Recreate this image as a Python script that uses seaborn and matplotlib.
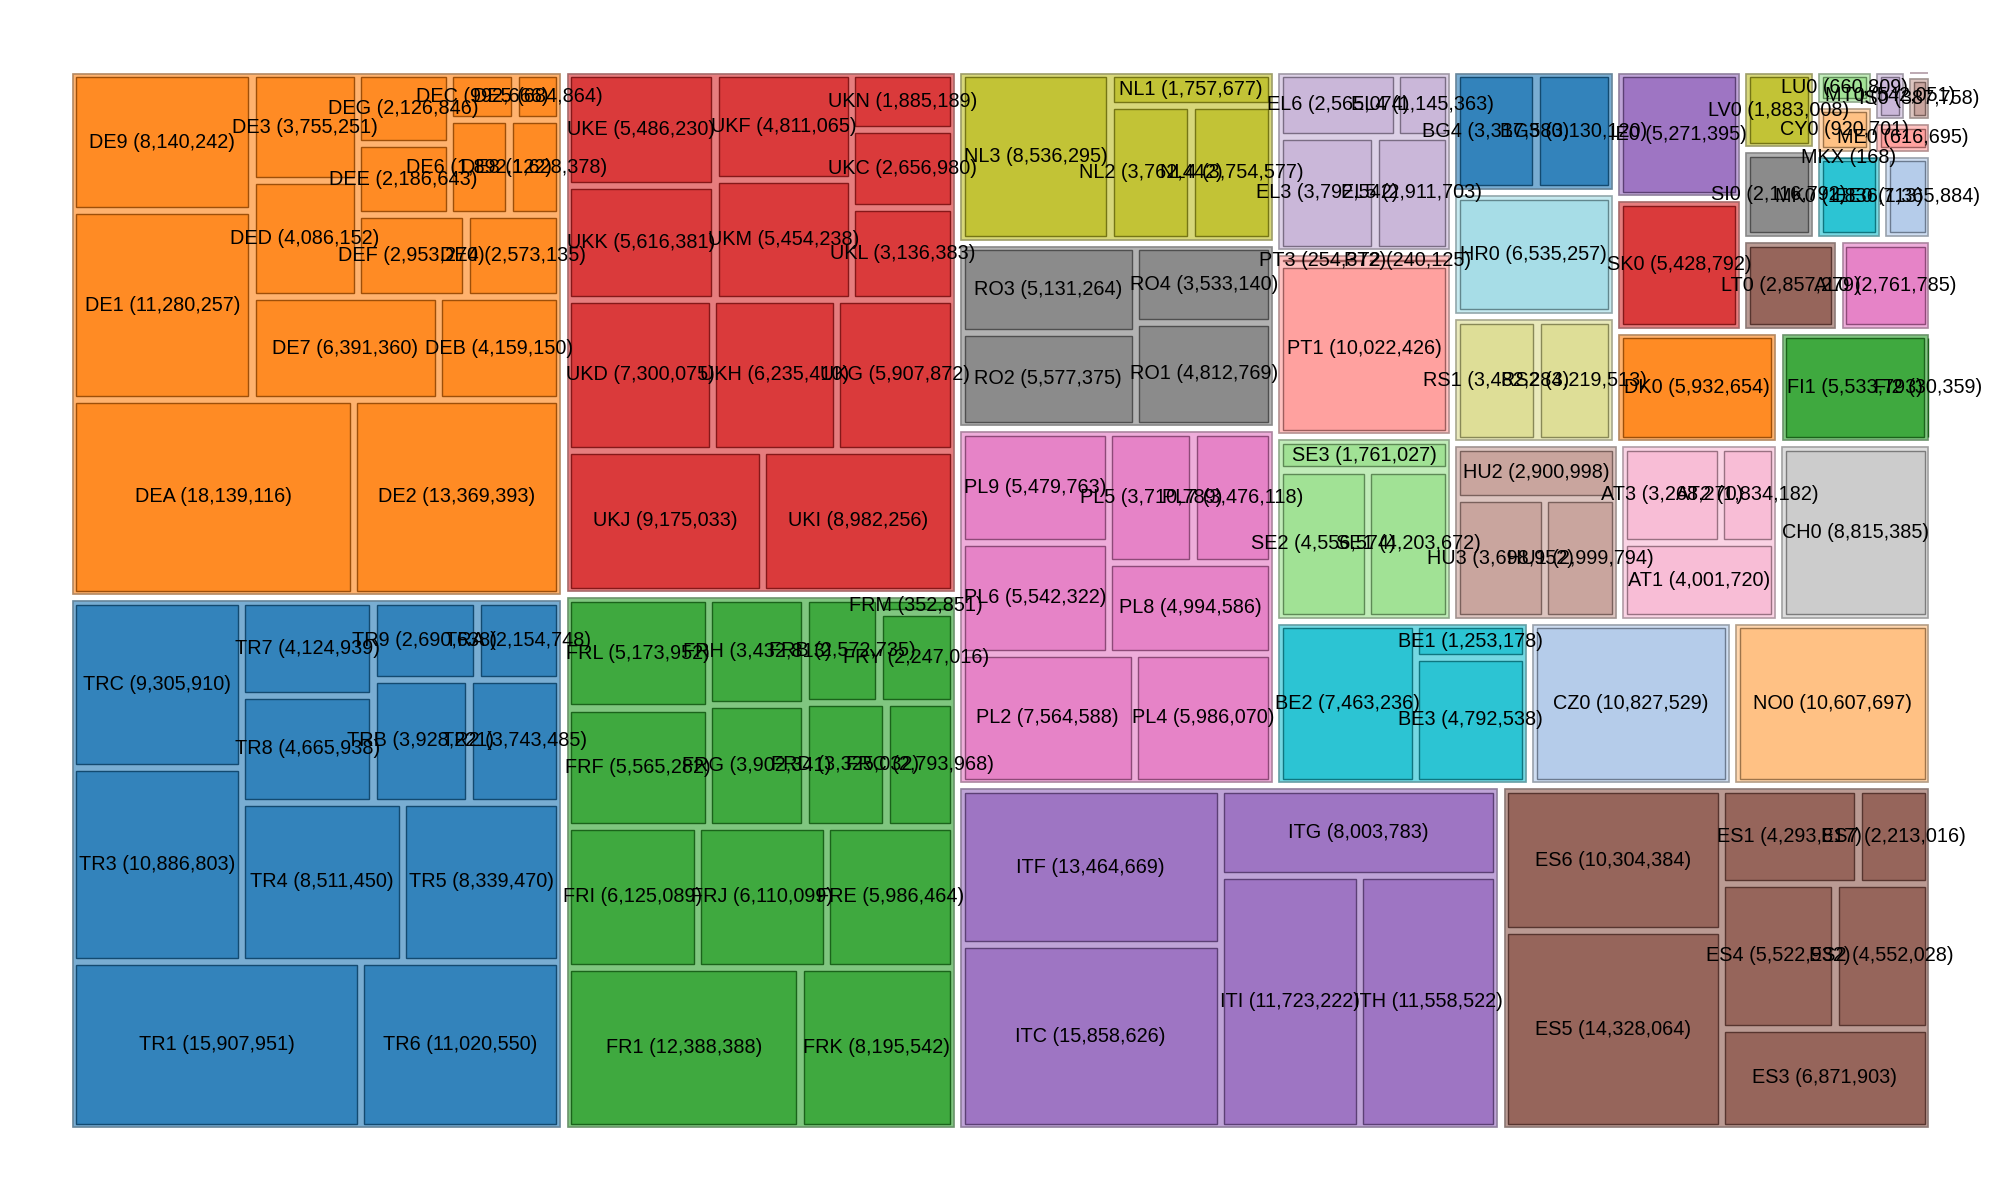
import matplotlib
matplotlib.use("Agg")
import numpy as np
import pandas as pd
import seaborn as sns
import matplotlib.pyplot as plt
from matplotlib.patches import Rectangle

sns.set_theme(style="white")
plt.rcParams['font.family'] = ['Liberation Sans', 'DejaVu Sans']

# ---------------- data ----------------
region_codes = [
    "DEA", "DE2", "DE1", "DE9", "DE7", "DEB", "DED", "DE3", "DEF", "DE4", "DEE", "DEG", "DE6", "DE8", "DEC", "DE5",
    "TR1", "TR6", "TR3", "TRC", "TR4", "TR5", "TR8", "TR7", "TRB", "TR2", "TR9", "TRA",
    "FR1", "FRK", "FRI", "FRJ", "FRE", "FRF", "FRL", "FRG", "FRH", "FRD", "FRC", "FRB", "FRY", "FRM",
    "UKJ", "UKI", "UKD", "UKH", "UKG", "UKK", "UKE", "UKM", "UKF", "UKL", "UKC", "UKN",
    "ITC", "ITF", "ITI", "ITH", "ITG",
    "ES5", "ES6", "ES3", "ES4", "ES2", "ES1", "ES7",
    "PL2", "PL4", "PL6", "PL9", "PL8", "PL5", "PL7",
    "RO2", "RO3", "RO1", "RO4",
    "NL3", "NL2", "NL4", "NL1",
    "BE2", "BE3", "BE1",
    "CZ0", "NO0",
    "SE2", "SE1", "SE3",
    "PT1", "PT3", "PT2",
    "EL3", "EL5", "EL6", "EL4",
    "HU3", "HU1", "HU2",
    "AT1", "AT3", "AT2",
    "CH0",
    "RS1", "RS2", "HR0", "BG4", "BG3", "DK0", "FI1", "FI2", "SK0", "IE0",
    "LT0", "AL0", "SI0", "LV0", "MK0", "MKX", "EE0", "CY0", "LU0", "ME0", "MT0", "IS0", "LI0",
]
region_population = [
    18139116, 13369393, 11280257, 8140242, 6391360, 4159150, 4086152, 3755251, 2953270, 2573135, 2186643, 2126846, 1892122, 1628378, 992666, 684864,
    15907951, 11020550, 10886803, 9305910, 8511450, 8339470, 4665938, 4124939, 3928221, 3743485, 2690638, 2154748,
    12388388, 8195542, 6125089, 6110099, 5986464, 5565282, 5173952, 3902341, 3432813, 3325032, 2793968, 2572735, 2247016, 352851,
    9175033, 8982256, 7300075, 6235410, 5907872, 5616381, 5486230, 5454238, 4811065, 3136383, 2656980, 1885189,
    15858626, 13464669, 11723222, 11558522, 8003783,
    14328064, 10304384, 6871903, 5522932, 4552028, 4293817, 2213016,
    7564588, 5986070, 5542322, 5479763, 4994586, 3710789, 3476118,
    5577375, 5131264, 4812769, 3533140,
    8536295, 3762442, 3754577, 1757677,
    7463236, 4792538, 1253178,
    10827529, 10607697,
    4556574, 4203672, 1761027,
    10022426, 254372, 240125,
    3792542, 2911703, 2565074, 1145363,
    3698952, 2999794, 2900998,
    4001720, 3268270, 1834182,
    8815385,
    3482284, 3219513, 6535257, 3317580, 3130120, 5932654, 5533793, 30359, 5428792, 5271395,
    2857279, 2761785, 2116792, 1883008, 1836713, 168, 1365884, 920701, 660809, 616695, 542051, 387758, 39677,
]

# ---------------- squarify (y axis pointing up) ----------------
def normalize(sizes, dx, dy):
    total = float(sum(sizes))
    return [s * dx * dy / total for s in sizes]

def layoutrow(sizes, x, y, dx, dy):
    width = sum(sizes) / dy
    out = []
    for s in sizes:
        out.append((x, y, width, s / width))
        y += s / width
    return out

def layoutcol(sizes, x, y, dx, dy):
    height = sum(sizes) / dx
    out = []
    for s in sizes:
        out.append((x, y, s / height, height))
        x += s / height
    return out

def layout(sizes, x, y, dx, dy):
    return layoutrow(sizes, x, y, dx, dy) if dx >= dy else layoutcol(sizes, x, y, dx, dy)

def leftover(sizes, x, y, dx, dy):
    covered = sum(sizes)
    if dx >= dy:
        w = covered / dy
        return x + w, y, dx - w, dy
    h = covered / dx
    return x, y + h, dx, dy - h

def worst_ratio(sizes, x, y, dx, dy):
    return max(max(r[2] / r[3], r[3] / r[2]) for r in layout(sizes, x, y, dx, dy))

def squarify(sizes, x, y, dx, dy):
    if len(sizes) == 0:
        return []
    if len(sizes) == 1:
        return layout(sizes, x, y, dx, dy)
    i = 1
    while i < len(sizes) and worst_ratio(sizes[:i], x, y, dx, dy) >= worst_ratio(sizes[:i + 1], x, y, dx, dy):
        i += 1
    cur, rest = sizes[:i], sizes[i:]
    lx, ly, ldx, ldy = leftover(cur, x, y, dx, dy)
    return layout(cur, x, y, dx, dy) + squarify(rest, lx, ly, ldx, ldy)

# ---------------- figure ----------------
df = pd.DataFrame({"region": region_codes, "population": region_population})
df["country"] = df["region"].str[:2]
totals = df.groupby("country")["population"].sum().sort_values(ascending=False, kind="mergesort")

W_L, H_L = 1000.0, 600.0
AX = [0.0345, 0.0575, 0.9315, 0.884]
fig = plt.figure(figsize=(20, 12), dpi=100)
fig.patch.set_facecolor("white")
ax = fig.add_axes(AX)
ax.set_xlim(0, W_L)
ax.set_ylim(0, H_L)
ax.axis("off")

PAD = 2.0

def shrink(r):
    x, y, dx, dy = r
    if dx > 2 * PAD:
        x, dx = x + PAD, dx - 2 * PAD
    else:
        x, dx = x + dx / 2, 0.0
    if dy > 2 * PAD:
        y, dy = y + PAD, dy - 2 * PAD
    else:
        y, dy = y + dy / 2, 0.0
    return x, y, dx, dy

base = sns.color_palette("tab20")
pal = base[0::2] + base[1::2]

def mix(c, w, t):
    return tuple(t * np.array(c) + (1 - t) * np.array(w))

country_rects = squarify(normalize(list(totals.values), W_L, H_L), 0, 0, W_L, H_L)
labels = []
for i, (country, rect) in enumerate(zip(totals.index, country_rects)):
    col = pal[i % 20]
    ox, oy, odx, ody = shrink(rect)
    group_fill = mix(col, (1, 1, 1), 0.6)
    group_edge = mix(col, (0.55, 0.55, 0.55), 0.35)
    ax.add_patch(Rectangle((ox, oy), odx, ody, facecolor=group_fill, edgecolor=group_edge,
                           linewidth=1.2, zorder=1))
    sub = df[df["country"] == country].sort_values("population", ascending=False, kind="mergesort")
    if odx <= 0 or ody <= 0:
        continue
    leaf_rects = squarify(normalize(list(sub["population"]), odx, ody), ox, oy, odx, ody)
    leaf_fill = mix(col, (1, 1, 1), 0.91)
    leaf_edge = mix(col, (0, 0, 0), 0.62)
    for (code, val), lr in zip(zip(sub["region"], sub["population"]), leaf_rects):
        lx, ly, ldx, ldy = shrink(lr)
        ax.add_patch(Rectangle((lx, ly), ldx, ldy, facecolor=leaf_fill, edgecolor=leaf_edge,
                               linewidth=1.0, zorder=2))
        labels.append((lr[0] + lr[2] / 2, lr[1] + lr[3] / 2, f"{code} ({val:,})"))

for cx, cy, txt in labels:
    ax.text(cx, cy, txt, ha="center", va="center", fontsize=14.3, color="black",
            zorder=10, clip_on=False)

fig.savefig("out.png", dpi=100, facecolor="white")
